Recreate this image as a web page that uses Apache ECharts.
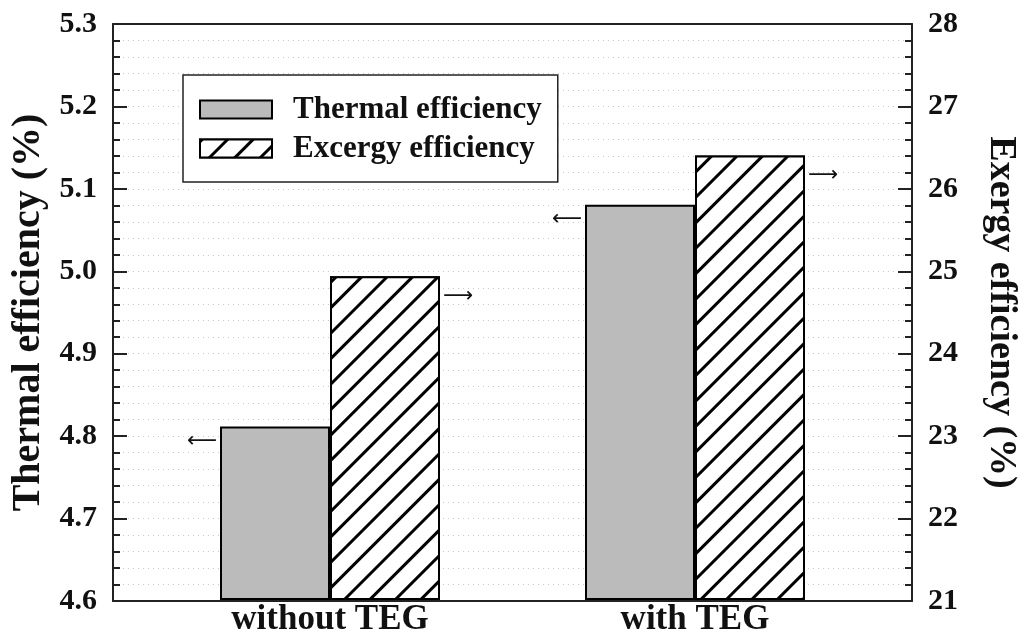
<!DOCTYPE html>
<html>
<head>
<meta charset="utf-8">
<script src="https://cdn.jsdelivr.net/npm/echarts@6/dist/echarts.min.js"></script>
<style>
  html, body { margin: 0; padding: 0; background: #fff; }
  #chart { width: 1032px; height: 637px; }
</style>
</head>
<body>
<div id="chart"></div>
<script>
// Cases compared
const categories = ['without TEG', 'with TEG'];
// Thermal efficiency (%), left axis
const thermalEfficiency = [4.81, 5.08];
// Exergy efficiency (%), right axis
const exergyEfficiency = [24.93, 26.40];

const FONT = '"Liberation Serif", "Times New Roman", serif';
const INK = '#111';

const leftRange = { min: 4.6, max: 5.3, interval: 0.1 };
const rightRange = { min: 21, max: 28, interval: 1 };

const tickFont = { fontFamily: FONT, fontWeight: 'bold', fontSize: 30, color: INK };
const dotted = { color: '#c8c8c8', width: 1, type: [1, 4] };

// diagonal "/" hatching for the exergy bars
const hatch = {
  symbol: 'rect',
  symbolSize: 1,
  color: '#000',
  backgroundColor: '#fff',
  dashArrayX: [1, 0],
  dashArrayY: [2.4, 14.6],
  rotation: -Math.PI / 4
};

const chart = echarts.init(document.getElementById('chart'), null, { renderer: 'canvas' });

chart.setOption({
  backgroundColor: '#fff',
  animation: false,
  grid: [
    // frame with both value axes
    { left: 113, right: 120, top: 24, bottom: 36 },
    // band where the two cases sit
    { left: 147.5, right: 154.5, top: 24, bottom: 36 }
  ],
  legend: {
    orient: 'vertical',
    left: 183,
    top: 75,
    padding: [19, 16, 18, 16],
    itemGap: 8,
    itemWidth: 72,
    itemHeight: 18,
    backgroundColor: '#fff',
    borderColor: '#222',
    borderWidth: 1.5,
    icon: 'rect',
    textStyle: {
      fontFamily: FONT, fontWeight: 'bold', fontSize: 31, color: INK,
      lineHeight: 30, padding: [0, 0, 0, 16]
    },
    data: ['Thermal efficiency', 'Excergy efficiency']
  },
  xAxis: [
    {
      type: 'category', gridIndex: 0, position: 'bottom',
      data: categories,
      axisLine: { show: true, lineStyle: { color: '#222', width: 2 } },
      axisTick: { show: false }, axisLabel: { show: false }, splitLine: { show: false }
    },
    {
      type: 'category', gridIndex: 0, position: 'top',
      data: categories,
      axisLine: { show: true, lineStyle: { color: '#222', width: 2 } },
      axisTick: { show: false }, axisLabel: { show: false }, splitLine: { show: false }
    },
    {
      type: 'category', gridIndex: 1, position: 'bottom',
      data: categories,
      axisLine: { show: false }, axisTick: { show: false },
      axisLabel: { margin: 3, fontFamily: FONT, fontWeight: 'bold', fontSize: 35, color: INK }
    }
  ],
  yAxis: [
    {
      type: 'value', gridIndex: 0, position: 'left',
      min: leftRange.min, max: leftRange.max, interval: leftRange.interval,
      name: 'Thermal efficiency (%)', nameLocation: 'middle', nameGap: 57,
      nameTextStyle: { fontFamily: FONT, fontWeight: 'bold', fontSize: 40, color: INK },
      axisLine: { show: true, lineStyle: { color: '#222', width: 2 } },
      axisTick: { show: true, inside: true, length: 14, lineStyle: { color: '#222', width: 2 } },
      minorTick: { show: true, splitNumber: 5, length: 7, lineStyle: { color: '#222', width: 2 } },
      axisLabel: Object.assign({ margin: 16, formatter: v => v.toFixed(1) }, tickFont),
      splitLine: { show: true, lineStyle: dotted },
      minorSplitLine: { show: true, lineStyle: dotted }
    },
    {
      type: 'value', gridIndex: 0, position: 'right',
      min: rightRange.min, max: rightRange.max, interval: rightRange.interval,
      name: 'Exergy efficiency (%)', nameLocation: 'middle', nameGap: 70, nameRotate: -90,
      nameTextStyle: { fontFamily: FONT, fontWeight: 'bold', fontSize: 38, color: INK },
      axisLine: { show: true, lineStyle: { color: '#222', width: 2 } },
      axisTick: { show: true, inside: true, length: 14, lineStyle: { color: '#222', width: 2 } },
      minorTick: { show: true, splitNumber: 5, length: 7, lineStyle: { color: '#222', width: 2 } },
      axisLabel: Object.assign({ margin: 16 }, tickFont),
      splitLine: { show: false }
    },
    {
      type: 'value', gridIndex: 1, show: false,
      min: leftRange.min, max: leftRange.max, interval: leftRange.interval
    },
    {
      type: 'value', gridIndex: 1, show: false,
      min: rightRange.min, max: rightRange.max, interval: rightRange.interval
    }
  ],
  series: [
    {
      name: 'Thermal efficiency',
      type: 'bar',
      xAxisIndex: 2, yAxisIndex: 2,
      data: thermalEfficiency,
      barWidth: 110,
      barGap: '0%',
      itemStyle: { color: '#bbbbbb', borderColor: '#000', borderWidth: 2 },
      label: {
        show: true,
        position: [-3, 15],
        align: 'right',
        verticalAlign: 'middle',
        formatter: '\u27F5',
        fontFamily: '"DejaVu Sans", sans-serif',
        fontSize: 21,
        color: '#111'
      },
      z: 3
    },
    {
      name: 'Excergy efficiency',
      type: 'bar',
      xAxisIndex: 2, yAxisIndex: 3,
      data: exergyEfficiency,
      barWidth: 110,
      barGap: '0%',
      itemStyle: { color: '#fff', borderColor: '#000', borderWidth: 2, decal: hatch },
      label: {
        show: true,
        position: ['100%', 20],
        offset: [3, 0],
        align: 'left',
        verticalAlign: 'middle',
        formatter: '\u27F6',
        fontFamily: '"DejaVu Sans", sans-serif',
        fontSize: 21,
        color: '#111'
      },
      z: 3
    }
  ]
});
</script>
</body>
</html>
